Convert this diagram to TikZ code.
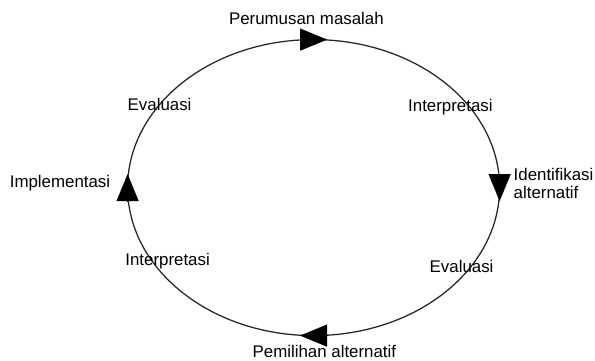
\documentclass[tikz,border=0pt]{standalone}
\usepackage{fontspec}
\setmainfont{Liberation Sans}
\usetikzlibrary{arrows.meta,calc}

\begin{document}
\begin{tikzpicture}[
    font=\fontsize{12}{12.5}\selectfont,
    cycle/.style={line width=0.9pt, draw=black!85},
    tip/.style={line width=0pt, -{Triangle[length=0.68cm, width=0.56cm]}},
    stage/.style={inner sep=1pt, align=center}
]
\useasboundingbox (0,0) rectangle (14.875,9);

% the cycle
\coordinate (ctr) at (7.84,4.31);
\draw[cycle] (ctr) ellipse [x radius=4.65cm, y radius=3.7cm];
\coordinate (top) at ($(ctr)+(0,3.7)$);
\coordinate (rgt) at ($(ctr)+(4.65,0)$);
\coordinate (bot) at ($(ctr)+(0,-3.7)$);
\coordinate (lft) at ($(ctr)+(-4.65,0)$);

% direction marks
\draw[tip] ($(top)+(-0.34,0)$) -- ($(top)+(0.34,0)$);
\draw[tip] ($(rgt)+(0,0.34)$) -- ($(rgt)+(0,-0.34)$);
\draw[tip] ($(bot)+(0.34,0)$) -- ($(bot)+(-0.34,0)$);
\draw[tip] ($(lft)+(0,-0.34)$) -- ($(lft)+(0,0.34)$);

% stages
\node[stage] (perumusan) at (7.66,8.55) {Perumusan masalah};
\node[stage, anchor=west, align=left] (identifikasi) at (12.8,4.41) {Identifikasi\\alternatif};
\node[stage] (pemilihan) at (8.11,0.21) {Pemilihan alternatif};
\node[stage] (implementasi) at (1.5,4.43) {Implementasi};

\node[stage] (evalA) at (3.99,6.4) {Evaluasi};
\node[stage] (interpA) at (11.26,6.33) {Interpretasi};
\node[stage] (interpB) at (4.19,2.46) {Interpretasi};
\node[stage] (evalB) at (11.54,2.33) {Evaluasi};

\end{tikzpicture}
\end{document}
